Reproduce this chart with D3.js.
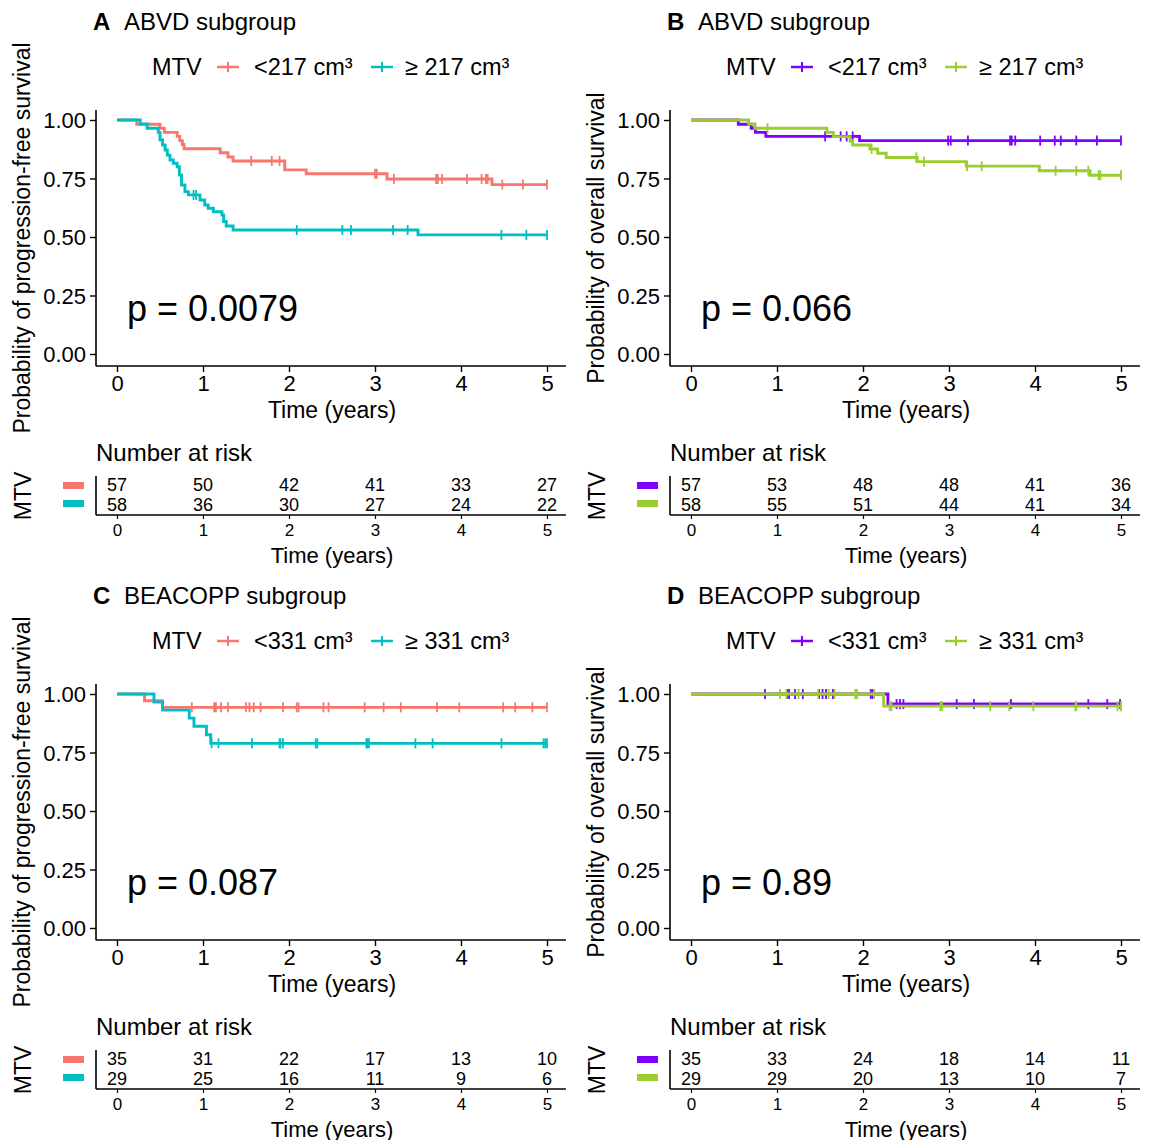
<!DOCTYPE html>
<html><head><meta charset="utf-8">
<script src="https://cdn.jsdelivr.net/npm/d3@7"></script>
<style>
body{margin:0;background:#fff}
svg{display:block}
text{font-family:"Liberation Sans",Arial,Helvetica,sans-serif;fill:#000}
</style>
</head><body>
<svg id="chart" width="1152" height="1140"></svg>
<script>
// ---------- data ----------
const timeTicks = [0, 1, 2, 3, 4, 5];
const survTicks = [0, 0.25, 0.5, 0.75, 1];
const panelLetters = ["A", "B", "C", "D"];
const panelTitles = ["ABVD subgroup", "ABVD subgroup", "BEACOPP subgroup", "BEACOPP subgroup"];
const yTitles = ["Probability of progression-free survival", "Probability of overall survival",
                 "Probability of progression-free survival", "Probability of overall survival"];
const legendTitle = "MTV";
const legendLabels = [["<217 cm³", "≥ 217 cm³"], ["<217 cm³", "≥ 217 cm³"],
                      ["<331 cm³", "≥ 331 cm³"], ["<331 cm³", "≥ 331 cm³"]];
const pValues = ["p = 0.0079", "p = 0.066", "p = 0.087", "p = 0.89"];
const colorsPFS = ["#F8766D", "#00BFC4"];
const colorsOS = ["#8000FF", "#9ACD32"];

// Panel A: PFS, ABVD
const pfsAbvdLow = [[0,1],[0.23,0.982],[0.50,0.965],[0.55,0.947],[0.70,0.93],[0.73,0.912],[0.76,0.895],[0.78,0.877],[1.20,0.86],[1.29,0.842],[1.35,0.825],[1.95,0.787],[2.20,0.77],[3.14,0.748],[4.36,0.724],[5.0,0.724]];
const pfsAbvdLowCens = [1.56,1.80,1.89,3.0,3.02,3.22,3.71,3.73,3.78,4.07,4.24,4.29,4.31,4.48,4.72,5.0];
const pfsAbvdHigh = [[0,1],[0.27,0.983],[0.35,0.965],[0.48,0.947],[0.50,0.915],[0.53,0.893],[0.56,0.872],[0.585,0.85],[0.616,0.829],[0.655,0.815],[0.70,0.80],[0.725,0.765],[0.75,0.722],[0.79,0.694],[0.83,0.68],[0.965,0.658],[1.02,0.637],[1.06,0.623],[1.12,0.608],[1.22,0.594],[1.24,0.566],[1.27,0.547],[1.35,0.53],[3.50,0.509],[5.0,0.509]];
const pfsAbvdHighCens = [0.89,0.92,2.09,2.62,2.72,3.21,3.38,4.47,4.76,5.0];
const riskAbvdPfsLow = [57, 50, 42, 41, 33, 27];
const riskAbvdPfsHigh = [58, 36, 30, 27, 24, 22];

// Panel B: OS, ABVD
const osAbvdLow = [[0,1],[0.55,0.982],[0.70,0.965],[0.75,0.947],[0.87,0.93],[1.96,0.912],[5.0,0.912]];
const osAbvdLowCens = [1.56,1.74,1.81,1.88,2.99,3.02,3.22,3.71,3.73,3.77,4.06,4.23,4.30,4.48,4.72,5.0];
const osAbvdHigh = [[0,1],[0.67,0.983],[0.744,0.965],[1.58,0.947],[1.655,0.929],[1.85,0.91],[1.88,0.893],[2.08,0.876],[2.17,0.858],[2.27,0.84],[2.63,0.822],[3.20,0.803],[4.05,0.783],[4.64,0.764],[5.0,0.764]];
const osAbvdHighCens = [0.89,2.10,2.62,2.71,3.21,3.38,4.24,4.48,4.62,4.74,4.76,5.0];
const riskAbvdOsLow = [57, 53, 48, 48, 41, 36];
const riskAbvdOsHigh = [58, 55, 51, 44, 41, 34];

// Panel C: PFS, BEACOPP
const pfsBeaLow = [[0,1],[0.32,0.971],[0.53,0.943],[5.0,0.943]];
const pfsBeaLowCens = [0.87,1.13,1.15,1.21,1.29,1.50,1.54,1.59,1.67,1.93,2.09,2.11,2.40,2.46,2.88,3.10,3.30,3.72,3.98,4.49,4.63,4.83,5.0];
const pfsBeaHigh = [[0,1],[0.43,0.966],[0.53,0.931],[0.84,0.897],[0.895,0.862],[1.04,0.826],[1.09,0.789],[5.0,0.789]];
const pfsBeaHighCens = [1.10,1.18,1.57,1.89,1.90,1.93,2.31,2.33,2.90,2.91,2.93,3.47,3.67,4.47,4.96,4.98,5.0];
const riskBeaPfsLow = [35, 31, 22, 17, 13, 10];
const riskBeaPfsHigh = [29, 25, 16, 11, 9, 6];

// Panel D: OS, BEACOPP
const osBeaLow = [[0,1],[2.29,0.957],[5.0,0.957]];
const osBeaLowCens = [0.86,1.12,1.14,1.21,1.30,1.49,1.53,1.57,1.65,2.09,2.11,2.39,2.43,2.47,3.09,3.29,3.72,4.62,4.84,4.99];
const osBeaHigh = [[0,1],[2.24,0.948],[5.0,0.948]];
const osBeaHighCens = [1.035,1.11,1.25,1.48,1.60,1.67,1.91,1.93,2.13,2.31,2.33,2.90,2.92,3.48,3.70,3.98,4.47,4.48,4.96,5.0];
const riskBeaOsLow = [35, 33, 24, 18, 14, 11];
const riskBeaOsHigh = [29, 29, 20, 13, 10, 7];

// ---------- panels ----------
const panels = [
  {ox:0,   oy:0,   colors:colorsPFS, series:[[pfsAbvdLow,pfsAbvdLowCens],[pfsAbvdHigh,pfsAbvdHighCens]], risk:[riskAbvdPfsLow,riskAbvdPfsHigh]},
  {ox:574, oy:0,   colors:colorsOS,  series:[[osAbvdLow,osAbvdLowCens],[osAbvdHigh,osAbvdHighCens]],     risk:[riskAbvdOsLow,riskAbvdOsHigh]},
  {ox:0,   oy:574, colors:colorsPFS, series:[[pfsBeaLow,pfsBeaLowCens],[pfsBeaHigh,pfsBeaHighCens]],     risk:[riskBeaPfsLow,riskBeaPfsHigh]},
  {ox:574, oy:574, colors:colorsOS,  series:[[osBeaLow,osBeaLowCens],[osBeaHigh,osBeaHighCens]],         risk:[riskBeaOsLow,riskBeaOsHigh]}
];

const svg = d3.select("#chart");
const FONT_TICK = 22, FONT_TITLE = 23, FONT_HEAD = 24, FONT_LEG = 23.5;

function survAt(steps, t) {
  let v = steps[0][1];
  for (const s of steps) { if (s[0] <= t) v = s[1]; }
  return v;
}

panels.forEach((p, i) => {
  const g = svg.append("g").attr("transform", `translate(${p.ox},${p.oy})`);
  const x = d3.scaleLinear().domain([0, 5]).range([117, 547]);
  const y = d3.scaleLinear().domain([0, 1]).range([354, 120]);

  // title
  g.append("text").attr("x", 93).attr("y", 21).attr("dominant-baseline", "central")
    .attr("font-size", FONT_HEAD).attr("font-weight", "bold").text(panelLetters[i]);
  g.append("text").attr("x", 124).attr("y", 21).attr("dominant-baseline", "central")
    .attr("font-size", FONT_HEAD).text(panelTitles[i]);

  // legend
  const ly = 67;
  g.append("text").attr("x", 152).attr("y", ly).attr("dominant-baseline", "central")
    .attr("font-size", FONT_LEG).text(legendTitle);
  const keyX = [228, 382], labX = [254, 405];
  [0, 1].forEach(k => {
    g.append("line").attr("x1", keyX[k] - 11).attr("x2", keyX[k] + 11).attr("y1", ly).attr("y2", ly)
      .attr("stroke", p.colors[k]).attr("stroke-width", 2.5);
    g.append("line").attr("x1", keyX[k]).attr("x2", keyX[k]).attr("y1", ly - 5).attr("y2", ly + 5)
      .attr("stroke", p.colors[k]).attr("stroke-width", 2);
    g.append("text").attr("x", labX[k]).attr("y", ly).attr("dominant-baseline", "central")
      .attr("font-size", FONT_LEG).text(legendLabels[i][k]);
  });

  // axes
  const yAx = g.append("g").attr("transform", "translate(96,0)")
    .call(d3.axisLeft(y).tickValues(survTicks).tickFormat(d3.format(".2f")).tickSize(6).tickPadding(4).tickSizeOuter(0));
  yAx.select(".domain").remove();
  yAx.selectAll("text").attr("font-size", FONT_TICK).attr("font-family", null).attr("dy", "0.35em");
  yAx.selectAll("line").attr("stroke-width", 1.4);
  g.append("line").attr("x1", 96).attr("x2", 96).attr("y1", y(1.043)).attr("y2", y(-0.052))
    .attr("stroke", "#000").attr("stroke-width", 1.6);

  const xAx = g.append("g").attr("transform", "translate(0,366)")
    .call(d3.axisBottom(x).tickValues(timeTicks).tickFormat(d3.format("d")).tickSize(6).tickPadding(3).tickSizeOuter(0));
  xAx.select(".domain").remove();
  xAx.selectAll("text").attr("font-size", FONT_TICK).attr("font-family", null);
  xAx.selectAll("line").attr("stroke-width", 1.4);
  g.append("line").attr("x1", 96).attr("x2", x(5.22)).attr("y1", 366).attr("y2", 366)
    .attr("stroke", "#000").attr("stroke-width", 1.6);

  g.append("text").attr("x", 332).attr("y", 410).attr("text-anchor", "middle").attr("dominant-baseline", "central")
    .attr("font-size", FONT_TITLE).text("Time (years)");
  g.append("text").attr("transform", "translate(22,238) rotate(-90)").attr("text-anchor", "middle")
    .attr("dominant-baseline", "central").attr("font-size", FONT_TITLE).text(yTitles[i]);

  // curves
  const line = d3.line().x(d => x(d[0])).y(d => y(d[1])).curve(d3.curveStepAfter);
  p.series.forEach((s, k) => {
    g.append("path").datum(s[0]).attr("d", line).attr("fill", "none")
      .attr("stroke", p.colors[k]).attr("stroke-width", 2.9);
    g.selectAll(null).data(s[1]).enter().append("line")
      .attr("x1", d => x(d)).attr("x2", d => x(d))
      .attr("y1", d => y(survAt(s[0], d)) - 5).attr("y2", d => y(survAt(s[0], d)) + 5)
      .attr("stroke", p.colors[k]).attr("stroke-width", 1.8);
  });

  // p-value
  g.append("text").attr("x", x(0.115)).attr("y", y(0.14)).attr("font-size", 36).text(pValues[i]);

  // risk table
  g.append("text").attr("x", 96).attr("y", 452).attr("dominant-baseline", "central")
    .attr("font-size", FONT_HEAD).text("Number at risk");
  g.append("text").attr("transform", "translate(23,496) rotate(-90)").attr("text-anchor", "middle")
    .attr("dominant-baseline", "central").attr("font-size", FONT_TITLE).text(legendTitle);
  const rowY = [485, 505];
  p.risk.forEach((r, k) => {
    g.append("rect").attr("x", 63).attr("y", [482, 500][k]).attr("width", 21).attr("height", 7)
      .attr("fill", p.colors[k]);
    g.selectAll(null).data(r).enter().append("text")
      .attr("x", (d, j) => x(timeTicks[j])).attr("y", rowY[k]).attr("text-anchor", "middle")
      .attr("dominant-baseline", "central").attr("font-size", 18).text(d => d);
  });
  g.append("line").attr("x1", 96).attr("x2", 96).attr("y1", 476).attr("y2", 515)
    .attr("stroke", "#000").attr("stroke-width", 1.6);
  const rAx = g.append("g").attr("transform", "translate(0,515)")
    .call(d3.axisBottom(x).tickValues(timeTicks).tickFormat(d3.format("d")).tickSize(4).tickPadding(5).tickSizeOuter(0));
  rAx.select(".domain").remove();
  rAx.selectAll("text").attr("font-size", 17).attr("font-family", null);
  rAx.selectAll("line").attr("stroke-width", 1.2);
  g.append("line").attr("x1", 96).attr("x2", x(5.22)).attr("y1", 515).attr("y2", 515)
    .attr("stroke", "#000").attr("stroke-width", 1.6);
  g.append("text").attr("x", 332).attr("y", 555).attr("text-anchor", "middle").attr("dominant-baseline", "central")
    .attr("font-size", 22).text("Time (years)");
});
</script>
</body></html>
